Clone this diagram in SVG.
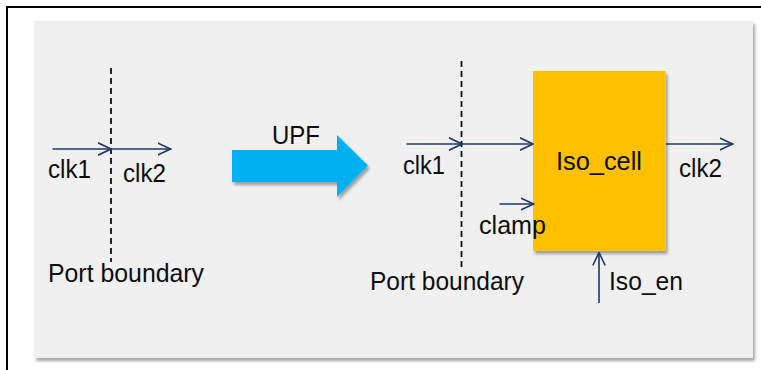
<svg xmlns="http://www.w3.org/2000/svg" width="761" height="370" viewBox="0 0 761 370">
  <defs>
    <style>
      .lbl { font-family: "Liberation Sans", Arial, sans-serif; font-size: 25px; fill: #0d0d0d; }
      .sig { stroke: #1F3864; stroke-width: 1.6; fill: none; }
      .dash { stroke: #111; stroke-width: 1.8; stroke-dasharray: 6 4; fill: none; }
    </style>
    <marker id="ah" viewBox="0 0 14 14" refX="13" refY="7" markerWidth="14" markerHeight="14" markerUnits="userSpaceOnUse" orient="auto">
      <path d="M0,0.8 L13,7 L0,13.2" fill="none" stroke="#1F3864" stroke-width="1.6"/>
    </marker>
    <filter id="sh" x="-5%" y="-5%" width="115%" height="115%">
      <feDropShadow dx="2" dy="3" stdDeviation="1.5" flood-color="#000" flood-opacity="0.35"/>
    </filter>
  </defs>
  <rect x="0" y="0" width="761" height="370" fill="#ffffff"/>
  <rect x="7" y="7" width="800" height="400" fill="none" stroke="#000" stroke-width="2"/>
  <rect x="34" y="21" width="719" height="337" fill="#f0f0f0" filter="url(#sh)"/>

  <g id="left-boundary">
    <line class="dash" x1="111" y1="68" x2="111" y2="262"/>
    <text class="lbl" x="48" y="282" textLength="156" lengthAdjust="spacingAndGlyphs">Port boundary</text>
  </g>
  <g id="left-clk1">
    <text class="lbl" x="48" y="178" textLength="43" lengthAdjust="spacingAndGlyphs">clk1</text>
  </g>
  <g id="left-clk2">
    <text class="lbl" x="123" y="182" textLength="43" lengthAdjust="spacingAndGlyphs">clk2</text>
  </g>

  <g id="upf">
    <polygon points="232,150 337,150 337,135 368,165.5 337,197 337,182 232,182" fill="#00B0F0" filter="url(#sh)"/>
    <text class="lbl" x="272" y="144" textLength="48" lengthAdjust="spacingAndGlyphs">UPF</text>
  </g>

  <g id="right-boundary">
    <line class="dash" x1="461.5" y1="61" x2="461.5" y2="270"/>
    <text class="lbl" x="370" y="290" textLength="154" lengthAdjust="spacingAndGlyphs">Port boundary</text>
  </g>
  <g id="right-clk1">
    <text class="lbl" x="403" y="174" textLength="42" lengthAdjust="spacingAndGlyphs">clk1</text>
  </g>
  <g id="iso_cell">
    <rect x="533" y="71" width="132.5" height="180" fill="#FFC000" filter="url(#sh)"/>
    <text class="lbl" x="556" y="170" textLength="86" lengthAdjust="spacingAndGlyphs">Iso_cell</text>
  </g>
  <g id="clamp">
    <text class="lbl" x="479" y="234" textLength="67" lengthAdjust="spacingAndGlyphs">clamp</text>
  </g>
  <g id="right-clk2">
    <text class="lbl" x="679" y="177" textLength="43" lengthAdjust="spacingAndGlyphs">clk2</text>
  </g>
  <g id="iso_en">
    <text class="lbl" x="609" y="290" textLength="74" lengthAdjust="spacingAndGlyphs">Iso_en</text>
  </g>

  <g id="connectors">
    <line class="sig" x1="52.5" y1="149" x2="111" y2="149" marker-end="url(#ah)"/>
    <line class="sig" x1="111" y1="149" x2="170.5" y2="149" marker-end="url(#ah)"/>
    <line class="sig" x1="406.5" y1="144" x2="462" y2="144" marker-end="url(#ah)"/>
    <line class="sig" x1="462" y1="144" x2="533" y2="144" marker-end="url(#ah)"/>
    <line class="sig" x1="499.5" y1="204" x2="533.5" y2="204" marker-end="url(#ah)"/>
    <line class="sig" x1="666" y1="144" x2="732.5" y2="144" marker-end="url(#ah)"/>
    <line class="sig" x1="599" y1="303" x2="599" y2="252.5" marker-end="url(#ah)"/>
  </g>
</svg>
